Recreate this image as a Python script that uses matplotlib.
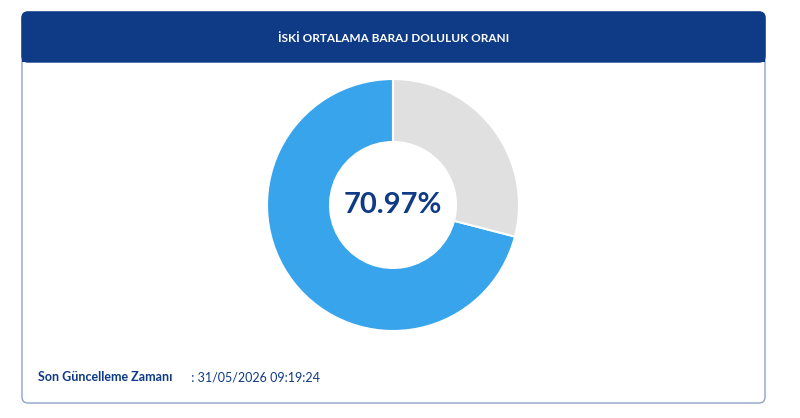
import matplotlib.pyplot as plt
from matplotlib.patches import FancyBboxPatch, Rectangle

title = "İSKİ ORTALAMA BARAJ DOLULUK ORANI"
fill_pct = 70.97
values = [fill_pct, 100 - fill_pct]
colors = ['#38a4ec', '#e0e0e0']
updated_label = "Son Güncelleme Zamanı"
updated_value = "31/05/2026 09:19:24"

W, H = 800, 418
fig = plt.figure(figsize=(W / 100, H / 100), dpi=100)
bg = fig.add_axes([0, 0, 1, 1])
bg.set_xlim(0, W)
bg.set_ylim(H, 0)
bg.axis('off')

navy = '#0e3a86'
# card
bg.add_patch(FancyBboxPatch((22, 12), 743, 391, boxstyle='round,pad=0,rounding_size=6',
                            fc='white', ec='#8fa3c8', lw=1))
bg.add_patch(FancyBboxPatch((22, 12), 743, 50, boxstyle='round,pad=0,rounding_size=6',
                            fc=navy, ec=navy, lw=1))
bg.add_patch(Rectangle((22, 50), 743, 12, fc=navy, ec='none'))
bg.text(393.5, 38, title, color='white', fontsize=8.5, fontweight='bold',
        ha='center', va='center', family='Lato')

bg.text(38, 377, updated_label, color=navy, fontsize=9, fontweight='bold',
        va='center', family='Lato')
bg.text(188, 377, " : " + updated_value, color=navy, fontsize=9,
        va='center', family='Lato')

# donut centered at (393, 205), radius ~126
r = 126
ax = fig.add_axes([(393 - r) / W, 1 - (205 + r) / H, 2 * r / W, 2 * r / H])
ax.pie(values, colors=colors, startangle=90, counterclock=True, radius=1,
       wedgeprops=dict(width=0.5, edgecolor='white', linewidth=1.5))
ax.set_xlim(-1, 1)
ax.set_ylim(-1, 1)
ax.set_aspect('auto')
ax.text(0, 0, f"{fill_pct:.2f}%", color=navy, fontsize=21, fontweight='bold',
        ha='center', va='center', family='Lato')

fig.savefig('out.png', dpi=100)
